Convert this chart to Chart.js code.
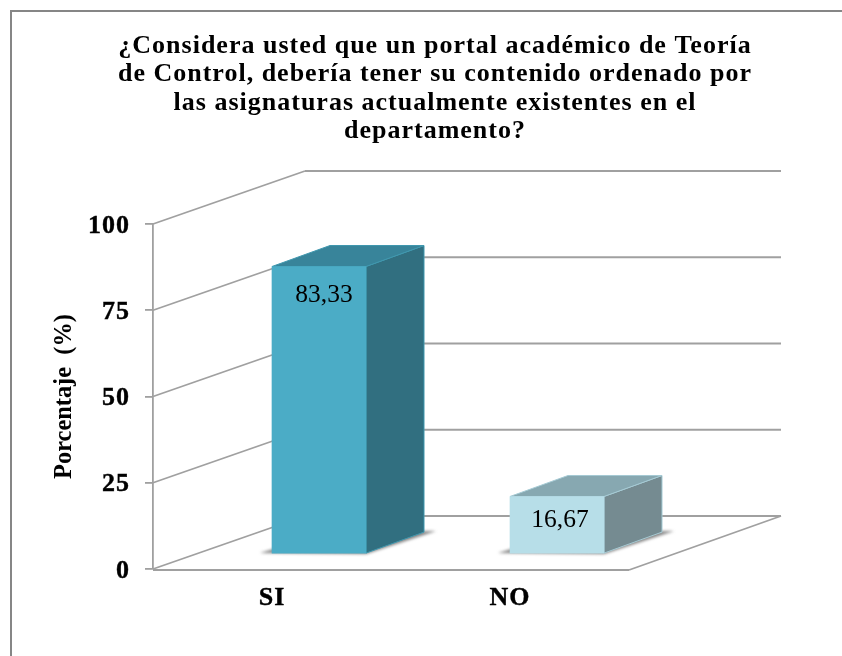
<!DOCTYPE html>
<html>
<head>
<meta charset="utf-8">
<script src="https://cdn.jsdelivr.net/npm/chart.js@4"></script>
<style>
  html, body { margin: 0; padding: 0; background: #fff; overflow: hidden; }
  #wrap { position: relative; width: 842px; height: 656px; overflow: hidden; }
  #frame { position: absolute; left: 10px; top: 10px; width: 840px; height: 660px; border-top: 2px solid #868686; border-left: 2px solid #868686; }
  canvas { position: absolute; left: 0; top: 0; }
</style>
</head>
<body>
<div id="wrap">
  <div id="frame"></div>
  <canvas id="chartCanvas" width="842" height="656"></canvas>
</div>
<script>
const categories = ['SI', 'NO'];
const values = [83.33, 16.67];
const yTicks = [0, 25, 50, 75, 100];
const titleLines = [
  '¿Considera usted que un portal académico de Teoría',
  'de Control, debería tener su contenido ordenado por',
  'las asignaturas actualmente existentes en el',
  'departamento?'
];
const frontColors = ['#4BACC6', '#B7DEE8'];
const sideColors = ['#316F80', '#758B91'];
const topColors = ['#38849A', '#87A8B1'];
const edgeColors = ['#3F97AE', '#A5CAD4'];

const serif = '"Liberation Serif", serif';
const gridColor = '#a0a0a0';
// depth of the box the chart sits in, and of the bars inside it
const wallDx = 152, wallDy = -53;
const barShiftX = 47, barShiftY = -15;
const barDx = 58, barDy = -21;
const labelDx = [5, 3], labelDy = [29, 24];

function line(ctx, x1, y1, x2, y2) {
  ctx.beginPath();
  ctx.moveTo(x1, y1);
  ctx.lineTo(x2, y2);
  ctx.stroke();
}

function poly(ctx, pts, fill, edge) {
  ctx.beginPath();
  pts.forEach((p, i) => (i ? ctx.lineTo(p[0], p[1]) : ctx.moveTo(p[0], p[1])));
  ctx.closePath();
  ctx.fillStyle = fill;
  ctx.fill();
  if (edge) {
    ctx.strokeStyle = edge;
    ctx.lineWidth = 1;
    ctx.stroke();
  }
}

const box3d = {
  id: 'box3d',
  afterLayout(chart) {
    // title is centred over the whole drawing, not the plot
    chart.titleBlock.left = 0;
    chart.titleBlock.right = 870;
    // axis title keeps its natural spacing
    const yScale = chart.scales.y;
    const drawTitle = Object.getPrototypeOf(yScale).drawTitle;
    yScale.drawTitle = function () {
      chart.ctx.letterSpacing = '0px';
      drawTitle.call(yScale);
      chart.ctx.letterSpacing = '1px';
    };
  },
  beforeDraw(chart) {
    // the picture is slightly stretched sideways, so the text runs a bit wide
    chart.ctx.letterSpacing = '1px';
  },
  // walls and floor, behind the bars
  beforeDatasetsDraw(chart) {
    const { ctx, scales: { x, y } } = chart;
    const left = x.left, right = x.right;
    ctx.save();
    ctx.strokeStyle = gridColor;
    ctx.lineWidth = 1.8;
    yTicks.forEach((t) => {
      const py = y.getPixelForValue(t);
      line(ctx, left, py, left + wallDx, py + wallDy);
      line(ctx, left + wallDx, py + wallDy, right + wallDx, py + wallDy);
    });
    const py0 = y.getPixelForValue(0);
    line(ctx, left, py0 + 1, right, py0 + 1);
    line(ctx, right, py0 + 1, right + wallDx, py0 + wallDy);

    // soft shadows on the floor
    const meta = chart.getDatasetMeta(0);
    ctx.filter = 'blur(1.5px)';
    meta.data.forEach((bar) => {
      const l = bar.x - bar.width / 2 + barShiftX;
      const r = bar.x + bar.width / 2 + barShiftX;
      const b = bar.base + barShiftY;
      poly(ctx, [[l - 12, b], [r, b + 1], [r + barDx + 12, b + barDy - 1], [l + barDx, b + barDy]], 'rgba(90,90,90,0.75)');
    });
    ctx.restore();
  },
  // real bars are the front faces, pushed into the depth of the box
  beforeDatasetDraw(chart) {
    const { ctx } = chart;
    const meta = chart.getDatasetMeta(0);
    ctx.save();
    meta.data.forEach((bar, i) => {
      const l = bar.x - bar.width / 2 + barShiftX;
      const r = bar.x + bar.width / 2 + barShiftX;
      const t = bar.y + barShiftY;
      const b = bar.base + barShiftY;
      poly(ctx, [[r, t], [r + barDx, t + barDy], [r + barDx, b + barDy], [r, b]], sideColors[i], edgeColors[i]);
      poly(ctx, [[l, t], [l + barDx, t + barDy], [r + barDx, t + barDy], [r, t]], topColors[i], edgeColors[i]);
    });
    ctx.translate(barShiftX, barShiftY);
  },
  afterDatasetDraw(chart) {
    chart.ctx.restore();
  },
  afterDatasetsDraw(chart) {
    const { ctx } = chart;
    const meta = chart.getDatasetMeta(0);
    ctx.save();
    ctx.fillStyle = '#000';
    ctx.letterSpacing = '0px';
    ctx.font = '25.5px ' + serif;
    ctx.textAlign = 'center';
    ctx.textBaseline = 'middle';
    meta.data.forEach((bar, i) => {
      ctx.fillText(values[i].toFixed(2).replace('.', ','), bar.x + barShiftX + labelDx[i], bar.y + barShiftY + labelDy[i]);
    });
    ctx.restore();
  }
};

new Chart(document.getElementById('chartCanvas'), {
  type: 'bar',
  data: {
    labels: categories,
    datasets: [{
      data: values,
      backgroundColor: frontColors,
      borderWidth: 0,
      barThickness: 94
    }]
  },
  options: {
    responsive: false,
    animation: false,
    layout: { padding: { left: 0, right: 213, top: 0, bottom: 0 } },
    plugins: {
      legend: { display: false },
      tooltip: { enabled: false },
      title: {
        display: true,
        text: titleLines,
        color: '#000',
        font: { family: serif, size: 26, weight: 'bold', lineHeight: 28.5 / 26 },
        padding: { top: 32, bottom: 78 }
      }
    },
    scales: {
      x: {
        afterFit(scale) { scale.height = 87; },
        grid: { display: false },
        border: { display: false },
        ticks: { color: '#000', padding: 6, maxRotation: 0, textStrokeColor: '#000', textStrokeWidth: 0.4, font: { family: serif, size: 26, weight: 'bold' } }
      },
      y: {
        min: 0,
        max: 100,
        afterFit(scale) { scale.width = 153; },
        afterBuildTicks(scale) { scale.ticks = yTicks.map((v) => ({ value: v })); },
        grid: { drawOnChartArea: false, color: gridColor, tickLength: 8, lineWidth: 1.8 },
        border: { display: true, color: gridColor, width: 1.8 },
        ticks: { color: '#000', padding: 15, labelOffset: 2, textStrokeColor: '#000', textStrokeWidth: 0.4, font: { family: serif, size: 26, weight: 'bold' } },
        title: {
          display: true,
          text: 'Porcentaje  (%)',
          color: '#000',
          font: { family: serif, size: 24.4, weight: 'bold' },
          padding: { top: 50, bottom: 0 }
        }
      }
    }
  },
  plugins: [box3d]
});
</script>
</body>
</html>
